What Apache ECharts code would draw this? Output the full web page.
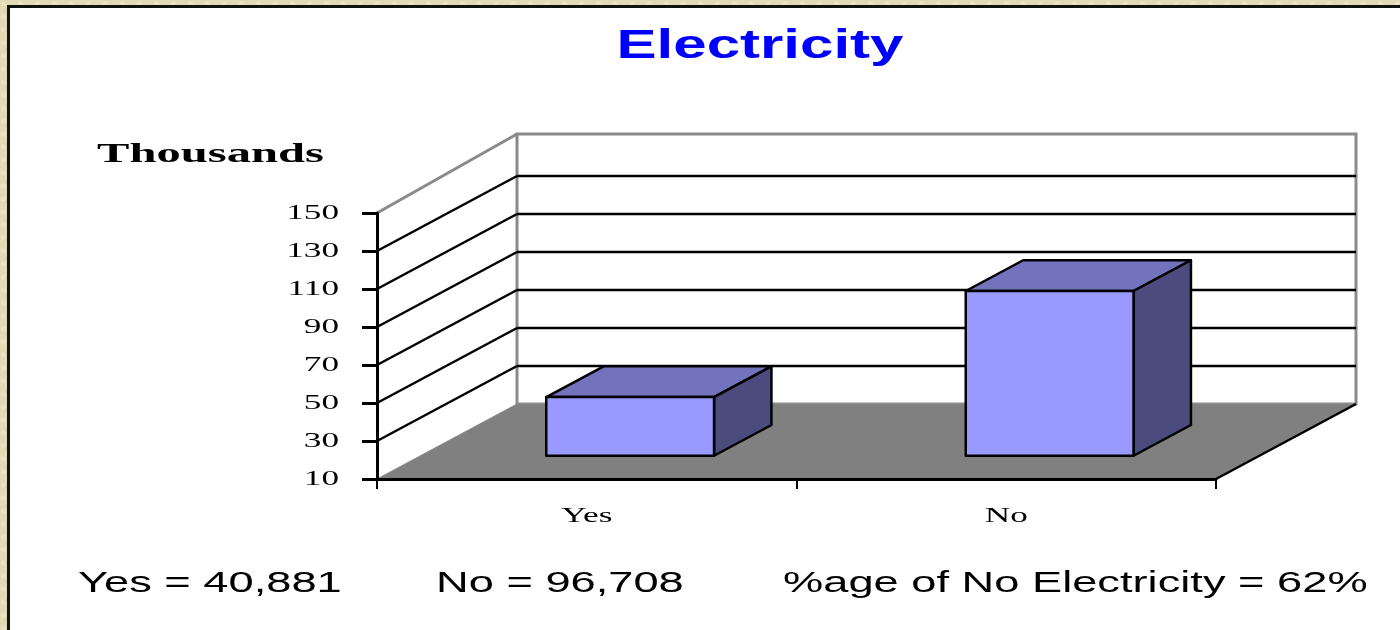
<!DOCTYPE html>
<html>
<head>
<meta charset="utf-8">
<script src="https://cdn.jsdelivr.net/npm/echarts@6/dist/echarts.min.js"></script>
<style>
  html, body { margin: 0; padding: 0; }
  body {
    width: 1400px; height: 630px; overflow: hidden; position: relative;
    background-color: #e2dab6;
    background-image:
      radial-gradient(circle at 20% 30%, rgba(255,255,240,0.25) 0 2px, transparent 3px),
      radial-gradient(circle at 70% 60%, rgba(160,145,100,0.15) 0 2px, transparent 3px);
    background-size: 17px 13px, 11px 19px;
  }
  .panel {
    position: absolute; left: 7px; top: 5px; width: 1420px; height: 660px;
    background: #fff; border: 3px solid #111;
  }
  #chart { position: absolute; left: 0; top: 0; width: 1400px; height: 630px; }
</style>
</head>
<body>
<div class="panel"></div>
<div id="chart"></div>
<script>
// data
const categories = ['Yes', 'No']
const households = [40.881, 96.708]   // thousands
const yTicks = [10, 30, 50, 70, 90, 110, 130, 150]
const summary = ['Yes = 40,881', 'No = 96,708', '%age of No Electricity = 62%']

// 3d look
const DX = 140, DY = -75
const barFront = 0.31, barBack = 0.72, barWidth = 0.4
const serif = 'Liberation Serif'
const sans = 'Liberation Sans'

const chart = echarts.init(document.getElementById('chart'))

// floor + walls
function renderFrame(params, api) {
    const cs = params.coordSys
    const x0 = cs.x, x1 = cs.x + cs.width
    const yb = api.coord([0, yTicks[0]])[1]
    const yt = api.coord([0, yTicks[yTicks.length - 1]])[1]
    const wt = yt + DY - 4   // back wall sits a little higher at the top
    return {
        type: 'group',
        children: [
            { type: 'polygon', shape: { points: [[x0, yt], [x0 + DX, wt], [x0 + DX, yb + DY], [x0, yb]] },
              style: { fill: '#fff', stroke: null } },
            { type: 'rect', shape: { x: x0 + DX, y: wt, width: x1 - x0, height: yb + DY - wt },
              style: { fill: '#fff', stroke: '#8a8a8a', lineWidth: 3 } },
            { type: 'line', shape: { x1: x0, y1: yt, x2: x0 + DX, y2: wt },
              style: { stroke: '#8a8a8a', lineWidth: 3 } },
            { type: 'polygon', shape: { points: [[x0, yb], [x1, yb], [x1 + DX, yb + DY], [x0 + DX, yb + DY]] },
              style: { fill: '#808080', stroke: '#8a8a8a', lineWidth: 1 } },
            { type: 'line', shape: { x1: x1, y1: yb, x2: x1 + DX, y2: yb + DY },
              style: { stroke: '#000', lineWidth: 2.5 } }
        ]
    }
}

// gridlines on the side and back walls + tick labels
function renderGrid(params, api) {
    const cs = params.coordSys
    const x0 = cs.x, x1 = cs.x + cs.width
    const v = api.value(1)
    const y = api.coord([0, v])[1]
    const children = [{
        type: 'text', x: x0 - 38, y: y, scaleX: 1.6,
        style: { text: String(v), align: 'right', verticalAlign: 'middle',
                 fontFamily: serif, fontSize: 22, fill: '#000' }
    }]
    if (v !== yTicks[0] && v !== yTicks[yTicks.length - 1]) {
        children.push(
            { type: 'line', shape: { x1: x0, y1: y, x2: x0 + DX, y2: y + DY },
              style: { stroke: '#000', lineWidth: 2.5 } },
            { type: 'line', shape: { x1: x0 + DX, y1: y + DY, x2: x1 + DX, y2: y + DY },
              style: { stroke: '#000', lineWidth: 2.5 } }
        )
    }
    return { type: 'group', children }
}

// 3d columns
function renderBar(params, api) {
    const i = api.value(0)
    const base = api.coord([i, yTicks[0]])
    const top = api.coord([i, api.value(1)])
    const half = api.size([1, 0])[0] * barWidth / 2
    const p = (x, y, d) => [x + d * DX, y + d * DY]
    const l = base[0] - half, r = base[0] + half
    const ft = top[1], fb = base[1]
    const line = { stroke: '#000', lineWidth: 2.5, lineJoin: 'round' }
    return {
        type: 'group',
        children: [
            { type: 'polygon', shape: { points: [p(l, ft, barFront), p(r, ft, barFront), p(r, ft, barBack), p(l, ft, barBack)] },
              style: Object.assign({ fill: '#7373bd' }, line) },
            { type: 'polygon', shape: { points: [p(r, ft, barFront), p(r, ft, barBack), p(r, fb, barBack), p(r, fb, barFront)] },
              style: Object.assign({ fill: '#4b4b7d' }, line) },
            { type: 'polygon', shape: { points: [p(l, ft, barFront), p(r, ft, barFront), p(r, fb, barFront), p(l, fb, barFront)] },
              style: Object.assign({ fill: '#9999ff' }, line) }
        ]
    }
}

// category labels under the floor
function renderCat(params, api) {
    const i = api.value(0)
    const pt = api.coord([i, yTicks[0]])
    return {
        type: 'text', x: pt[0], y: pt[1] + 37, scaleX: 1.6,
        style: { text: categories[i], align: 'center', verticalAlign: 'middle',
                 fontFamily: serif, fontSize: 22, fill: '#000' }
    }
}

const option = {
    animation: false,
    backgroundColor: 'transparent',
    grid: { left: 377, top: 213, width: 839, height: 266, outerBoundsMode: 'none' },
    xAxis: {
        type: 'category',
        data: categories,
        z: 10,
        axisLine: { lineStyle: { color: '#000', width: 3 } },
        axisTick: { show: true, length: 10, lineStyle: { color: '#000', width: 2 } },
        axisLabel: { show: false },
        splitLine: { show: false }
    },
    yAxis: {
        type: 'value',
        min: 10,
        max: 150,
        interval: 20,
        z: 10,
        axisLine: { show: true, lineStyle: { color: '#000', width: 3 } },
        axisTick: { show: true, length: 15, lineStyle: { color: '#000', width: 3 } },
        axisLabel: { show: false },
        splitLine: { show: false }
    },
    graphic: [
        { type: 'text', x: 760, y: 47, scaleX: 1.5, z: 100,
          style: { text: 'Electricity', align: 'center', verticalAlign: 'middle',
                   fontFamily: sans, fontWeight: 'bold', fontSize: 40, fill: '#0000ff' } },
        { type: 'text', x: 97, y: 155, scaleX: 1.8, z: 100,
          style: { text: 'Thousands', align: 'left', verticalAlign: 'middle',
                   fontFamily: serif, fontWeight: 'bold', fontSize: 27, fill: '#000' } },
        { type: 'text', x: 78, y: 584, scaleX: 1.56, z: 100,
          style: { text: summary[0], align: 'left', verticalAlign: 'middle',
                   fontFamily: sans, fontSize: 29, fill: '#000' } },
        { type: 'text', x: 436, y: 584, scaleX: 1.56, z: 100,
          style: { text: summary[1], align: 'left', verticalAlign: 'middle',
                   fontFamily: sans, fontSize: 29, fill: '#000' } },
        { type: 'text', x: 783, y: 584, scaleX: 1.56, z: 100,
          style: { text: summary[2], align: 'left', verticalAlign: 'middle',
                   fontFamily: sans, fontSize: 29, fill: '#000' } }
    ],
    series: [
        { type: 'custom', name: 'frame', z: 1, silent: true,
          data: [[0, yTicks[0]]], renderItem: renderFrame },
        { type: 'custom', name: 'grid', z: 2, silent: true,
          data: yTicks.map(v => [0, v]), renderItem: renderGrid },
        { type: 'custom', name: 'households', z: 3,
          data: households.map((v, i) => [i, v]), renderItem: renderBar },
        { type: 'custom', name: 'labels', z: 4, silent: true,
          data: categories.map((c, i) => [i, yTicks[0]]), renderItem: renderCat }
    ]
}

chart.setOption(option)
</script>
</body>
</html>
